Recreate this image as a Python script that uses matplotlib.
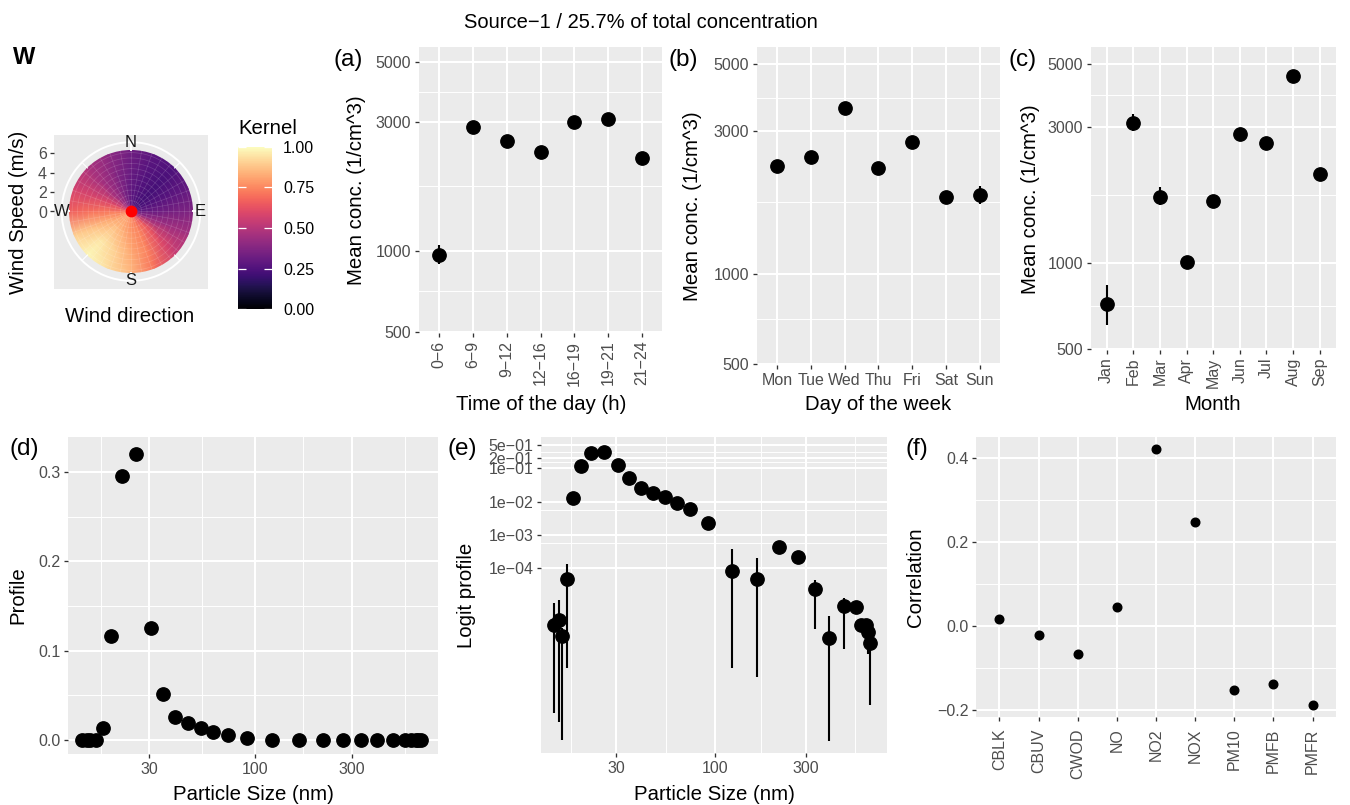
import numpy as np
import matplotlib
matplotlib.use('Agg')
import matplotlib.pyplot as plt
from matplotlib.ticker import FixedLocator, NullFormatter
from matplotlib.patches import Circle

plt.rcParams['font.family'] = ['Liberation Sans', 'DejaVu Sans']

# ------------------------------------------------------------------ data
hour_labels = ['0−6', '6−9', '9−12', '12−16', '16−19', '19−21', '21−24']
hour_mean = [967, 2870, 2560, 2320, 3000, 3070, 2200]
hour_lo = [896, 2820, 2520, 2280, 2950, 3020, 2160]
hour_hi = [1054, 2920, 2600, 2360, 3050, 3120, 2240]

day_labels = ['Mon', 'Tue', 'Wed', 'Thu', 'Fri', 'Sat', 'Sun']
day_mean = [2280, 2450, 3570, 2245, 2750, 1800, 1835]
day_lo = [2240, 2410, 3510, 2205, 2700, 1750, 1710]
day_hi = [2320, 2490, 3630, 2285, 2800, 1850, 1960]

month_labels = ['Jan', 'Feb', 'Mar', 'Apr', 'May', 'Jun', 'Jul', 'Aug', 'Sep']
month_mean = [718, 3106, 1705, 1009, 1651, 2820, 2634, 4509, 2050]
month_lo = [607, 2910, 1590, 985, 1625, 2770, 2540, 4440, 2015]
month_hi = [834, 3330, 1840, 1035, 1680, 2870, 2760, 4580, 2085]

size_nm = [14.1, 14.9, 15.4, 16.5, 17.7, 19.4, 22.0, 25.8, 30.6, 35.1, 40.3,
           46.9, 54.2, 62.4, 73.4, 91.0, 122, 165, 216, 273, 335, 400, 480,
           552, 589, 621, 636, 658]
profile = [2.0e-6, 2.8e-6, 9.3e-7, 4.8e-5, 0.0132, 0.117, 0.295, 0.320,
           0.125, 0.052, 0.026, 0.0187, 0.0141, 0.0093, 0.0060, 0.00224,
           8.3e-5, 4.7e-5, 4.4e-4, 2.2e-4, 2.4e-5, 8.3e-7, 7.4e-6, 7.1e-6,
           2.0e-6, 2.0e-6, 1.2e-6, 5.9e-7]
profile_lo = [4.5e-9, 2.5e-9, 6.9e-10, 1.0e-7, 0.0132, 0.117, 0.295, 0.320,
              0.125, 0.052, 0.026, 0.0187, 0.0141, 0.0093, 0.0060, 0.00224,
              1.0e-7, 5.3e-8, 4.4e-4, 2.2e-4, 1.5e-6, 6.6e-10, 3.9e-7, 6.5e-6,
              1.8e-6, 1.8e-6, 2.7e-7, 8.0e-9]
profile_hi = [8.9e-6, 1.1e-5, 1.6e-6, 1.35e-4, 0.0132, 0.117, 0.295, 0.320,
              0.125, 0.052, 0.026, 0.0187, 0.0141, 0.0093, 0.0060, 0.00224,
              3.8e-4, 2.1e-4, 4.4e-4, 2.2e-4, 4.4e-5, 3.8e-6, 1.26e-5, 7.8e-6,
              2.2e-6, 2.2e-6, 1.5e-6, 1.0e-6]

species = ['CBLK', 'CBUV', 'CWOD', 'NO', 'NO2', 'NOX', 'PM10', 'PMFB', 'PMFR']
correlation = [0.016, -0.0215, -0.067, 0.046, 0.421, 0.248, -0.154, -0.140, -0.188]

# kernel read per compass direction (rows) at wind-speed nodes (columns)
wind_dir = [0, 22.5, 45, 67.5, 90, 112.5, 135, 157.5,
            180, 202.5, 225, 247.5, 270, 292.5, 315, 337.5]
wind_speed = [0.0, 2.1, 4.2, 6.5]
kernel = [
    [0.27, 0.29, 0.31, 0.33],  # N
    [0.24, 0.25, 0.26, 0.28],  # NNE
    [0.22, 0.22, 0.23, 0.25],  # NE
    [0.24, 0.25, 0.27, 0.30],  # ENE
    [0.30, 0.31, 0.34, 0.37],  # E
    [0.42, 0.44, 0.45, 0.46],  # ESE
    [0.60, 0.65, 0.60, 0.55],  # SE
    [0.70, 0.74, 0.74, 0.70],  # SSE
    [0.75, 0.78, 0.82, 0.85],  # S
    [0.78, 0.83, 0.90, 0.93],  # SSW
    [0.78, 0.86, 0.95, 0.99],  # SW
    [0.76, 0.82, 0.87, 0.90],  # WSW
    [0.70, 0.72, 0.70, 0.66],  # W
    [0.60, 0.60, 0.58, 0.57],  # WNW
    [0.48, 0.46, 0.46, 0.48],  # NW
    [0.38, 0.37, 0.38, 0.41],  # NNW
]
wind_speed_max = 6.33
conc_ticks = [500, 1000, 3000, 5000]

# ------------------------------------------------------------------ layout helpers
W, H = 1350, 805
fig = plt.figure(figsize=(W / 100, H / 100), dpi=100)
fig.patch.set_facecolor('white')

TICK_FS = 11.5
TITLE_FS = 14.7
GREY30 = '#4D4D4D'


def add_ax(x0, y0, x1, y1, **kw):
    return fig.add_axes([x0 / W, 1 - y1 / H, (x1 - x0) / W, (y1 - y0) / H], **kw)


def gg_axes(x0, y0, x1, y1):
    ax = add_ax(x0, y0, x1, y1)
    ax.set_facecolor('#EBEBEB')
    for s in ax.spines.values():
        s.set_visible(False)
    ax.set_axisbelow(True)
    ax.tick_params(which='major', length=3, width=0.95, color='#333333',
                   labelsize=TICK_FS, labelcolor=GREY30, pad=2.5)
    ax.tick_params(which='minor', length=0)
    return ax


def finish_grid(ax):
    ax.grid(True, which='major', color='white', lw=1.45)
    ax.grid(True, which='minor', color='white', lw=0.7)


def place_xlabel(ax, text, cx, cy):
    ax.set_xlabel(text, fontsize=TITLE_FS, color='black')
    ax.xaxis.label.set_va('center')
    ax.xaxis.set_label_coords(cx / W, 1 - cy / H, transform=fig.transFigure)


def place_ylabel(ax, text, cx, cy):
    ax.set_ylabel(text, fontsize=TITLE_FS, color='black')
    ax.yaxis.label.set_va('center')
    ax.yaxis.set_label_coords(cx / W, 1 - cy / H, transform=fig.transFigure)


def conc_axis(ax):
    ax.set_yscale('log')
    ax.set_ylim(495, 5700)
    ax.yaxis.set_major_locator(FixedLocator(conc_ticks))
    ax.set_yticklabels([str(v) for v in conc_ticks])
    mids = np.sqrt(np.array(conc_ticks[:-1]) * np.array(conc_ticks[1:]))
    ax.yaxis.set_minor_locator(FixedLocator(mids))
    ax.yaxis.set_minor_formatter(NullFormatter())


def cat_panel(ax, labels, mean, lo, hi, rot):
    x = np.arange(1, len(labels) + 1)
    m = np.array(mean, float)
    ax.errorbar(x, m, yerr=[m - np.array(lo), np.array(hi) - m], fmt='o',
                color='black', ms=9.6, elinewidth=1.5, capsize=0, zorder=3)
    ax.set_xlim(0.4, len(labels) + 0.6)
    ax.set_xticks(x)
    ax.set_xticklabels(labels, rotation=rot)
    conc_axis(ax)
    finish_grid(ax)


# ------------------------------------------------------------------ title & tags
fig.text(641 / W, 1 - 22 / H, 'Source−1 / 25.7% of total concentration',
         ha='center', va='center', fontsize=14.5)
fig.text(24.5 / W, 1 - 58 / H, 'W', ha='center', va='center', fontsize=17,
         fontweight='bold')
for tag, cx, cy in [('(a)', 348, 60), ('(b)', 683, 60), ('(c)', 1023, 60),
                    ('(d)', 24, 449), ('(e)', 462, 449), ('(f)', 917, 449)]:
    fig.text(cx / W, 1 - cy / H, tag, ha='center', va='center', fontsize=17.5)

# ------------------------------------------------------------------ polar wind plot
cx_p, cy_p = 131.0, 211.5
r_disc_px = 61.6
r_outer_px = 69.3
px_per_unit = r_disc_px / wind_speed_max

bg = add_ax(54, 135, 208.3, 289)
bg.set_facecolor('#EBEBEB')
for s in bg.spines.values():
    s.set_visible(False)
bg.set_xlim(0, 1)
bg.set_xticks([])
bg.set_ylim(-(289 - cy_p) / px_per_unit, (cy_p - 135) / px_per_unit)
bg.set_yticks([0, 2, 4, 6])
bg.tick_params(axis='y', length=3, width=0.95, color='#333333',
               labelsize=TICK_FS, labelcolor=GREY30, pad=2)
place_ylabel(bg, 'Wind Speed (m/s)', 19, 212)
place_xlabel(bg, 'Wind direction', 130, 316)

r_lim = wind_speed_max * r_outer_px / r_disc_px
pax = add_ax(cx_p - r_outer_px, cy_p - r_outer_px, cx_p + r_outer_px,
             cy_p + r_outer_px, projection='polar')
pax.set_theta_zero_location('N')
pax.set_theta_direction(-1)
pax.set_ylim(0, r_lim)
pax.set_facecolor('none')
pax.grid(False)
pax.set_xticks([])
pax.set_yticks([])
pax.spines['polar'].set_color('white')
pax.spines['polar'].set_linewidth(1.4)

theta = np.deg2rad(np.array(wind_dir + [360.0]))
T, R = np.meshgrid(theta, np.array(wind_speed))
K = np.array(kernel).T
K = np.hstack([K, K[:, :1]])
mesh = pax.pcolormesh(T, R, K, cmap='magma', vmin=0, vmax=1,
                      shading='gouraud', zorder=1)
mesh.set_clip_path(Circle((0.5, 0.5), 0.5 * wind_speed_max / r_lim,
                          transform=pax.transAxes))

# faint tile outlines
full = np.linspace(0, 2 * np.pi, 361)
for ang in np.arange(0, 360, 10):
    pax.plot([np.deg2rad(ang)] * 2, [0, wind_speed_max], color='white',
             alpha=0.16, lw=0.5, zorder=2)
for rr in np.arange(0.55, wind_speed_max, 0.55):
    pax.plot(full, np.full_like(full, rr), color='white', alpha=0.16, lw=0.5,
             zorder=2)
for ang in range(0, 360, 45):
    pax.plot([np.deg2rad(ang)] * 2, [wind_speed_max, r_lim], color='white',
             lw=1.4 if ang % 90 == 0 else 0.8, zorder=2, clip_on=False)
pax.plot([0], [0], 'o', color='#FF0000', ms=7.5, zorder=4)
for lab, ang in [('N', 0), ('E', 90), ('S', 180), ('W', 270)]:
    pax.text(np.deg2rad(ang), r_lim, lab, ha='center', va='center',
             fontsize=TICK_FS + 0.5, color='#1A1A1A', zorder=5)

# colourbar
cax = add_ax(238, 146.7, 272, 309.3)
cb = fig.colorbar(mesh, cax=cax)
cb.outline.set_visible(False)
cb.set_ticks([0, 0.25, 0.5, 0.75, 1.0])
cb.set_ticklabels(['0.00', '0.25', '0.50', '0.75', '1.00'])
cax.tick_params(direction='in', length=6, width=0.9, color='white',
                left=True, right=True, labelleft=False, labelright=True,
                labelsize=TICK_FS, labelcolor='black', pad=8)
fig.text(238 / W, 1 - 128 / H, 'Kernel', ha='left', va='center',
         fontsize=TITLE_FS)

# ------------------------------------------------------------------ (a) (b) (c)
ax_a = gg_axes(419, 47, 662, 333)
cat_panel(ax_a, hour_labels, hour_mean, hour_lo, hour_hi, 90)
place_xlabel(ax_a, 'Time of the day (h)', 541, 405)
place_ylabel(ax_a, 'Mean conc. (1/cm^3)', 357, 190)

ax_b = gg_axes(756.7, 47.3, 1000, 365)
cat_panel(ax_b, day_labels, day_mean, day_lo, day_hi, 0)
place_xlabel(ax_b, 'Day of the week', 878, 404)
place_ylabel(ax_b, 'Mean conc. (1/cm^3)', 692, 206)

ax_c = gg_axes(1090.7, 47.3, 1335.7, 350)
cat_panel(ax_c, month_labels, month_mean, month_lo, month_hi, 90)
place_xlabel(ax_c, 'Month', 1213, 404)
place_ylabel(ax_c, 'Mean conc. (1/cm^3)', 1031, 199)

# ------------------------------------------------------------------ (d) (e)
size_ticks = [30, 100, 300]
size_minor = np.sqrt(np.array([10, 30, 100, 300]) * np.array([30, 100, 300, 1000]))


def size_axis(ax):
    ax.set_xscale('log')
    ax.set_xlim(12.0, 802)
    ax.xaxis.set_major_locator(FixedLocator(size_ticks))
    ax.set_xticklabels([str(v) for v in size_ticks])
    ax.xaxis.set_minor_locator(FixedLocator(size_minor))
    ax.xaxis.set_minor_formatter(NullFormatter())


ax_d = gg_axes(68.3, 436.7, 438.3, 754)
ax_d.plot(size_nm, profile, 'o', color='black', ms=9.6, zorder=3)
size_axis(ax_d)
ax_d.set_ylim(-0.0155, 0.3395)
ax_d.set_yticks([0.0, 0.1, 0.2, 0.3])
ax_d.set_yticklabels(['0.0', '0.1', '0.2', '0.3'])
ax_d.set_yticks([0.05, 0.15, 0.25], minor=True)
finish_grid(ax_d)
place_xlabel(ax_d, 'Particle Size (nm)', 253, 794)
place_ylabel(ax_d, 'Profile', 18, 595)

ax_e = gg_axes(541, 436.7, 886.7, 753.3)
p = np.array(profile)
ax_e.errorbar(size_nm, p, yerr=[p - np.array(profile_lo), np.array(profile_hi) - p],
              fmt='o', color='black', ms=9.6, elinewidth=1.5, capsize=0, zorder=3)
size_axis(ax_e)
ax_e.set_yscale('log')
ax_e.set_ylim(2.8e-10, 0.89)
logit_ticks = [5e-1, 2e-1, 1e-1, 1e-2, 1e-3, 1e-4]
ax_e.yaxis.set_major_locator(FixedLocator(logit_ticks))
ax_e.set_yticklabels(['5e−01', '2e−01', '1e−01', '1e−02', '1e−03', '1e−04'])
ax_e.yaxis.set_minor_locator(FixedLocator([0.3, 0.15, 5.6e-3, 5.6e-4]))
ax_e.yaxis.set_minor_formatter(NullFormatter())
finish_grid(ax_e)
place_xlabel(ax_e, 'Particle Size (nm)', 714, 794)
place_ylabel(ax_e, 'Logit profile', 467, 595)

# ------------------------------------------------------------------ (f)
ax_f = gg_axes(976, 436.7, 1336, 717.3)
xf = np.arange(1, len(species) + 1)
ax_f.plot(xf, correlation, 'o', color='black', ms=6.2, zorder=3)
ax_f.set_xlim(0.4, len(species) + 0.6)
ax_f.set_xticks(xf)
ax_f.set_xticklabels(species, rotation=90)
ax_f.tick_params(axis='x', pad=5)
ax_f.set_ylim(-0.2185, 0.4515)
ax_f.set_yticks([-0.2, 0.0, 0.2, 0.4])
ax_f.set_yticklabels(['−0.2', '0.0', '0.2', '0.4'])
ax_f.set_yticks([-0.1, 0.1, 0.3], minor=True)
finish_grid(ax_f)
place_ylabel(ax_f, 'Correlation', 916, 577)

fig.savefig('out.png', dpi=100)
